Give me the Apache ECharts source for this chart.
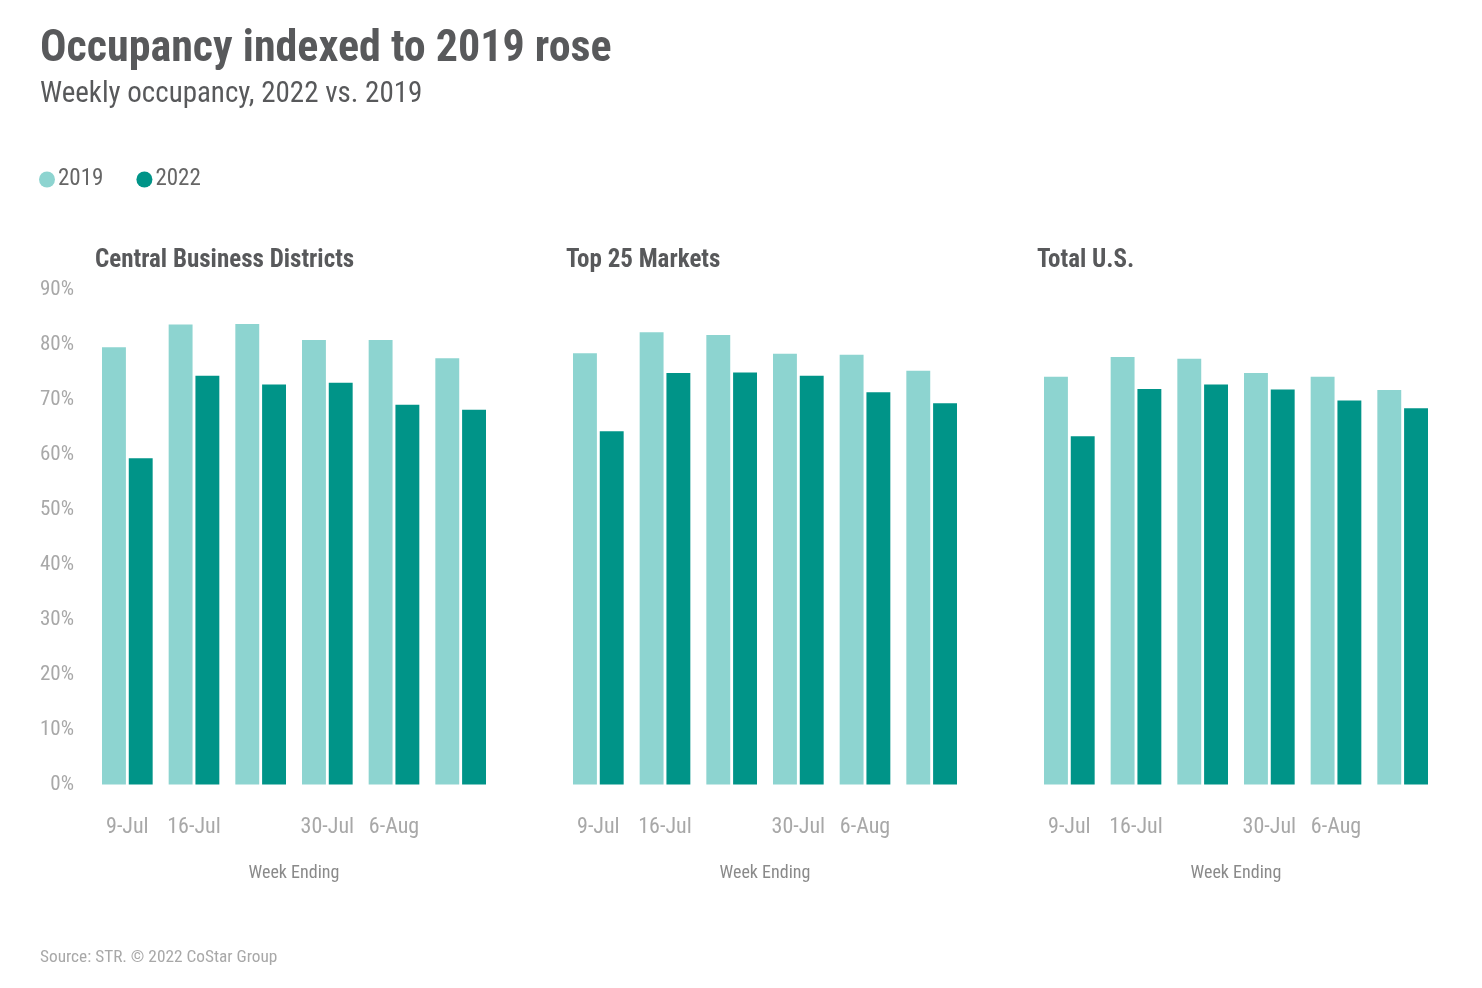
<!DOCTYPE html>
<html>
<head>
<meta charset="utf-8">
<script src="https://cdn.jsdelivr.net/npm/echarts@6/dist/echarts.min.js"></script>
<style>
html,body{margin:0;padding:0;background:#fff;}
#chart{width:1482px;height:988px;}
</style>
</head>
<body>
<div id="chart"></div>
<script>
const categories = ['9-Jul','16-Jul','23-Jul','30-Jul','6-Aug','13-Aug'];
const shownLabels = ['9-Jul','16-Jul','30-Jul','6-Aug'];
const panelTitles = ['Central Business Districts','Top 25 Markets','Total U.S.'];
const seriesNames = ['2019','2022'];
const cbd2019 = [79.6,83.7,83.8,80.9,80.9,77.6];
const cbd2022 = [59.4,74.4,72.8,73.1,69.1,68.2];
const top2019 = [78.5,82.3,81.8,78.4,78.2,75.3];
const top2022 = [64.3,74.9,75.0,74.4,71.4,69.4];
const us2019 = [74.2,77.8,77.5,74.9,74.2,71.8];
const us2022 = [63.4,72.0,72.8,71.9,69.9,68.5];
const yMin = 0, yMax = 90, yStep = 10;

const panelData = [[cbd2019,cbd2022],[top2019,top2022],[us2019,us2022]];
const colors = ['#8dd4d0','#009488'];
const FONT = '"Roboto Condensed","Liberation Sans Narrow","DejaVu Sans Condensed",Roboto,sans-serif';
const lefts = [94,565,1036];
const gridW = 400;

const chart = echarts.init(document.getElementById('chart'));
const grids = [], xAxes = [], yAxes = [], series = [], titles = [];
titles.push({text:'Occupancy indexed to 2019 rose', left:35, top:23,
  textStyle:{fontFamily:FONT,fontSize:44,fontWeight:'bold',color:'#58595b'}});
titles.push({text:'Weekly occupancy, 2022 vs. 2019', left:35, top:75,
  textStyle:{fontFamily:FONT,fontSize:29,fontWeight:'normal',color:'#58595b'}});
titles.push({text:'Source: STR. © 2022 CoStar Group', left:35, top:944,
  textStyle:{fontFamily:FONT,fontSize:17.3,fontWeight:'normal',color:'#a8a8a8'}});
panelData.forEach((pd,i)=>{
  titles.push({text:panelTitles[i], left:lefts[i]-4, top:243,
    textStyle:{fontFamily:FONT,fontSize:25,fontWeight:'bold',color:'#58595b'}});
  grids.push({left:lefts[i], top:290, width:gridW, height:494.5, containLabel:false});
  xAxes.push({type:'category', gridIndex:i, data:categories,
    axisLine:{show:false}, axisTick:{show:false},
    axisLabel:{interval:0, margin:32, fontFamily:FONT, fontSize:22, color:'#a8a8a8',
      formatter:(v)=> shownLabels.includes(v) ? v : ''},
    name:'Week Ending', nameLocation:'middle', nameGap:80,
    nameTextStyle:{fontFamily:FONT,fontSize:18,color:'#8a8a8a'}});
  yAxes.push({type:'value', gridIndex:i, min:yMin, max:yMax, interval:yStep,
    splitLine:{show:false}, axisLine:{show:false}, axisTick:{show:false},
    axisLabel:{show:i===0, margin:20, fontFamily:FONT, fontSize:21, color:'#a8a8a8',
      formatter:'{value}%'}});
  pd.forEach((vals,j)=>{
    series.push({type:'bar', name:seriesNames[j], xAxisIndex:i, yAxisIndex:i,
      data:vals, barGap:'12%', barCategoryGap:'24%',
      itemStyle:{color:colors[j]}, emphasis:{disabled:true}});
  });
});

chart.setOption({
  animation:false,
  color:colors,
  title:titles,
  legend:{data:seriesNames, left:34, top:163, icon:'circle', itemWidth:16, itemHeight:16,
    itemGap:33, itemStyle:{borderWidth:0},
    textStyle:{fontFamily:FONT,fontSize:23,color:'#666', padding:[0,0,0,-2]}},
  grid:grids, xAxis:xAxes, yAxis:yAxes, series:series
});
</script>
</body>
</html>
